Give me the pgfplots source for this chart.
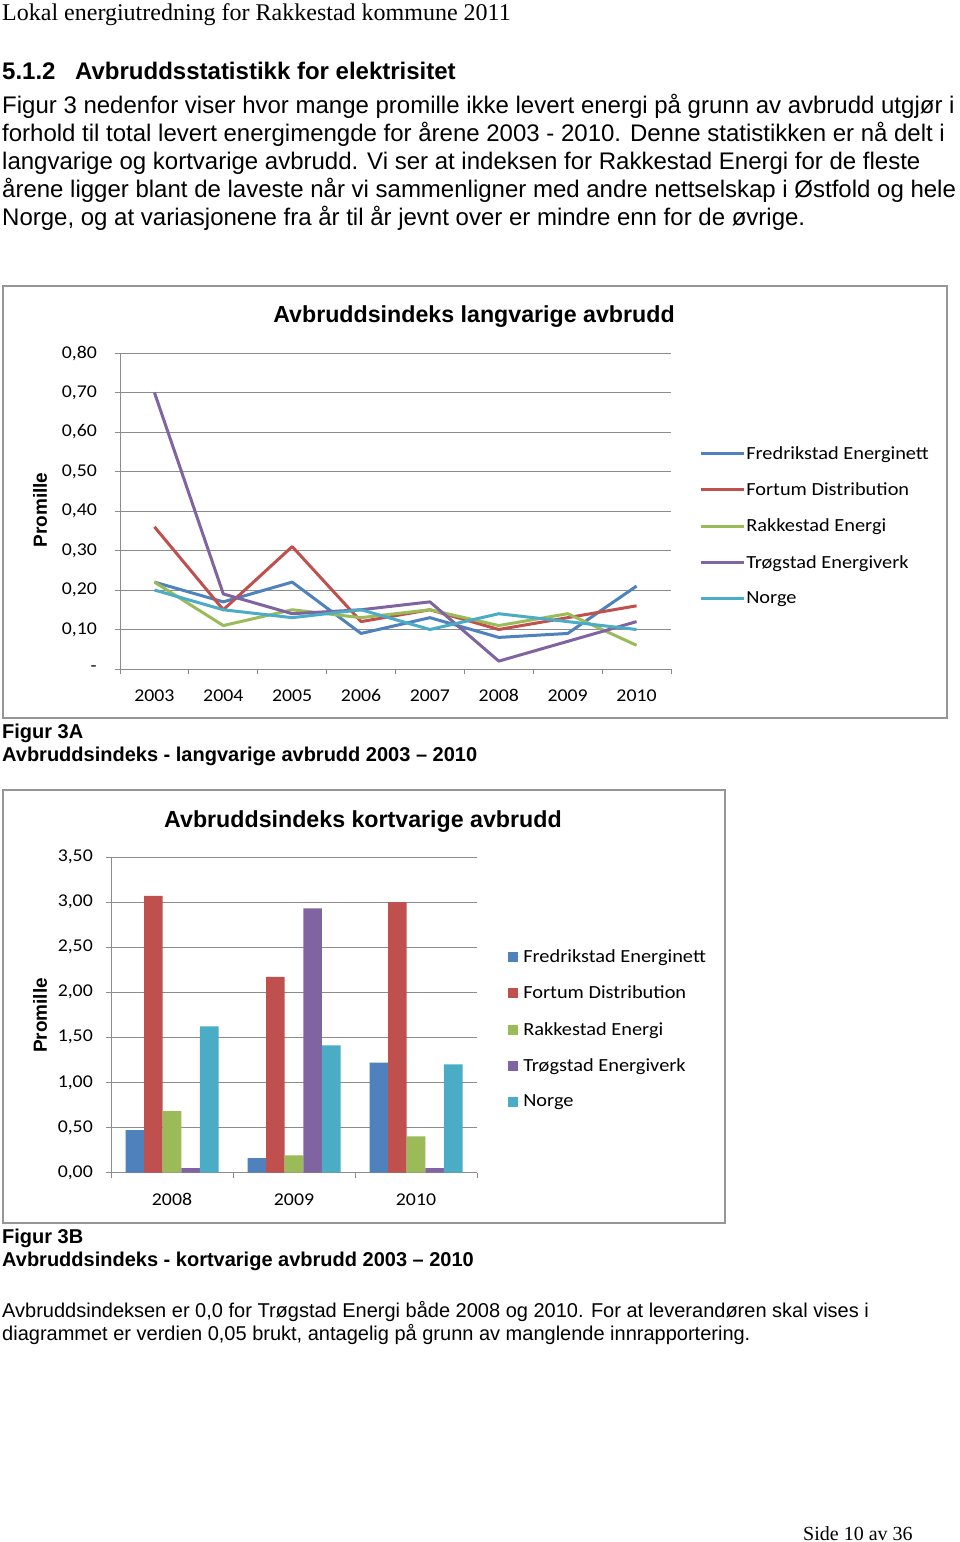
\documentclass[border=0pt]{standalone}
\usepackage{fontspec}
\setmainfont{Liberation Sans}
\newfontfamily\carlito[FakeStretch=1.1]{Carlito}
\newfontfamily\timesf{Liberation Serif}
\usepackage{pgfplots}
\pgfplotsset{compat=1.18}
\usepackage{pgfplotstable}
\definecolor{sF}{HTML}{4F81BD}
\definecolor{sFo}{HTML}{C0504D}
\definecolor{sR}{HTML}{9BBB59}
\definecolor{sT}{HTML}{8064A2}
\definecolor{sN}{HTML}{4BACC6}
\definecolor{gridc}{RGB}{140,140,140}
\definecolor{framec}{RGB}{150,150,150}

\pgfplotstableread{
year F Fo R T N
2003 0.22 0.36 0.22 0.70 0.20
2004 0.17 0.15 0.11 0.19 0.15
2005 0.22 0.31 0.15 0.14 0.13
2006 0.09 0.12 0.13 0.15 0.15
2007 0.13 0.15 0.15 0.17 0.10
2008 0.08 0.10 0.11 0.02 0.14
2009 0.09 0.13 0.14 0.07 0.12
2010 0.21 0.16 0.06 0.12 0.10
}\langtab

\pgfplotstableread{
idx F Fo R T N
0 0.47 3.07 0.68 0.05 1.62
1 0.16 2.17 0.19 2.93 1.41
2 1.22 3.00 0.40 0.05 1.20
}\korttab

\pgfplotsset{
  excelaxis/.style={
    scale only axis,
    axis x line*=bottom,
    axis y line*=left,
    axis line style={gridc, line width=0.9pt},
    tick style={gridc, line width=0.9pt},
    tick align=outside,
    major tick length=5pt,
    ymajorgrids,
    grid style={gridc, line width=0.9pt},
    tick label style={font=\carlito\fontsize{18}{18}\selectfont, text=black},
    yticklabel style={anchor=east, inner sep=0pt},
    xticklabel style={inner sep=0pt, anchor=north, text height=12pt, text depth=0pt},
    x tick label as interval,
    title style={font=\bfseries\fontsize{23.2}{23}\selectfont, anchor=center, inner sep=0pt, yshift=0pt},
    every axis y label/.style={rotate=90, anchor=center, font=\bfseries\fontsize{19}{19}\selectfont},
    legend cell align=left,
  }
}

\begin{document}
\begin{tikzpicture}[x=1pt,y=1pt]
\path[use as bounding box, fill=white] (0,0) rectangle (960,-1542);

% header
\node[anchor=base west, inner sep=0, font=\timesf\fontsize{24}{26}\selectfont] at (2,-20) {Lokal energiutredning for Rakkestad kommune 2011};
\node[anchor=base west, inner sep=0, font=\bfseries\fontsize{24}{26}\selectfont] at (2,-79) {5.1.2};
\node[anchor=base west, inner sep=0, font=\bfseries\fontsize{24}{26}\selectfont] at (75,-79) {Avbruddsstatistikk for elektrisitet};
\begin{scope}[every node/.style={anchor=base west, inner sep=0, font=\fontsize{24}{26}\selectfont}]
\node at (2,-113.5) {Figur 3 nedenfor viser hvor mange promille ikke levert energi på grunn av avbrudd utgjør i};
\node at (2,-141.5) {forhold til total levert energimengde for årene 2003 - 2010. Denne statistikken er nå delt i};
\node at (2,-169.5) {langvarige og kortvarige avbrudd. Vi ser at indeksen for Rakkestad Energi for de fleste};
\node at (2,-197) {årene ligger blant de laveste når vi sammenligner med andre nettselskap i Østfold og hele};
\node at (2,-225) {Norge, og at variasjonene fra år til år jevnt over er mindre enn for de øvrige.};
\end{scope}

% frames
\draw[framec, line width=1.5pt] (3,-286) rectangle (947,-718);
\draw[framec, line width=1.5pt] (3,-790) rectangle (725,-1223);

\begin{axis}[excelaxis,
  at={(120pt,-669pt)}, anchor=south west,
  width=551pt, height=316pt,
  xmin=2002.5, xmax=2010.5,
  xtick={2002.5,2003.5,...,2010.5},
  xticklabels={2003,2004,2005,2006,2007,2008,2009,2010},
  xticklabel style={yshift=-15pt},
  ymin=0, ymax=0.8,
  ytick={0,0.1,0.2,0.3,0.4,0.5,0.6,0.7,0.8},
  yticklabels={{-\hspace{10pt}},{0,10},{0,20},{0,30},{0,40},{0,50},{0,60},{0,70},{0,80}},
  yticklabel style={xshift=-18pt},
  title={Avbruddsindeks langvarige avbrudd},
  title style={at={(axis description cs:0.6425,1.095)}},
  ylabel={Promille},
  every axis y label/.append style={at={(axis description cs:-0.145,0.503)}},
  legend style={at={(axis description cs:1.051,0.709)}, anchor=north west, draw=none, fill=none,
     font=\carlito\fontsize{18.5}{18.5}\selectfont, row sep=20pt, inner sep=0pt,
     nodes={inner sep=1pt, anchor=west}},
  legend image code/.code={\draw[#1, line width=3pt] (0pt,0pt) -- (40pt,0pt); \path (0pt,0pt) -- (43pt,0pt);},
  every axis plot/.append style={line width=3pt, line join=round, no markers},
]
\addplot[sF] table[x=year,y=F] {\langtab};
\addplot[sFo] table[x=year,y=Fo] {\langtab};
\addplot[sR] table[x=year,y=R] {\langtab};
\addplot[sT] table[x=year,y=T] {\langtab};
\addplot[sN] table[x=year,y=N] {\langtab};
\legend{Fredrikstad Energinett,Fortum Distribution,Rakkestad Energi,Trøgstad Energiverk,Norge}
\end{axis}

\node[anchor=base west, inner sep=0, font=\bfseries\fontsize{20}{22}\selectfont] at (2,-738) {Figur 3A};
\node[anchor=base west, inner sep=0, font=\bfseries\fontsize{20}{22}\selectfont] at (2,-761) {Avbruddsindeks - langvarige avbrudd 2003 – 2010};

\begin{axis}[excelaxis,
  at={(111pt,-1172.5pt)}, anchor=south west,
  width=366pt, height=315.5pt,
  xmin=-0.5, xmax=2.5,
  xtick={-0.5,0.5,1.5,2.5},
  xticklabels={2008,2009,2010},
  xticklabel style={yshift=-16pt},
  ymin=0, ymax=3.5,
  ytick={0,0.5,1,1.5,2,2.5,3,3.5},
  yticklabels={{0,00},{0,50},{1,00},{1,50},{2,00},{2,50},{3,00},{3,50}},
  yticklabel style={xshift=-13pt},
  ybar=0pt, bar width=18.6pt,
  title={Avbruddsindeks kortvarige avbrudd},
  title style={at={(axis description cs:0.6885,1.0945)}},
  ylabel={Promille},
  every axis y label/.append style={at={(axis description cs:-0.194,0.498)}},
  legend style={at={(axis description cs:1.085,0.710)}, anchor=north west, draw=none, fill=none,
     font=\carlito\fontsize{18.5}{18.5}\selectfont, row sep=20pt, inner sep=0pt,
     nodes={inner sep=1pt, anchor=west}},
  legend image code/.code={\fill[#1] (0pt,-5pt) rectangle (10pt,5pt); \path (0pt,0pt) -- (14pt,0pt);},
]
\addplot[draw=none, fill=sF] table[x=idx,y=F] {\korttab};
\addplot[draw=none, fill=sFo] table[x=idx,y=Fo] {\korttab};
\addplot[draw=none, fill=sR] table[x=idx,y=R] {\korttab};
\addplot[draw=none, fill=sT] table[x=idx,y=T] {\korttab};
\addplot[draw=none, fill=sN] table[x=idx,y=N] {\korttab};
\legend{Fredrikstad Energinett,Fortum Distribution,Rakkestad Energi,Trøgstad Energiverk,Norge}
\end{axis}

\node[anchor=base west, inner sep=0, font=\bfseries\fontsize{20}{22}\selectfont] at (2,-1243) {Figur 3B};
\node[anchor=base west, inner sep=0, font=\bfseries\fontsize{20}{22}\selectfont] at (2,-1266) {Avbruddsindeks - kortvarige avbrudd 2003 – 2010};

\begin{scope}[every node/.style={anchor=base west, inner sep=0, font=\fontsize{20}{22}\selectfont}]
\node at (2,-1317) {Avbruddsindeksen er 0,0 for Trøgstad Energi både 2008 og 2010. For at leverandøren skal vises i};
\node at (2,-1340) {diagrammet er verdien 0,05 brukt, antagelig på grunn av manglende innrapportering.};
\end{scope}

\node[anchor=base west, inner sep=0, font=\timesf\fontsize{20}{22}\selectfont] at (803,-1540) {Side 10 av 36};
\end{tikzpicture}
\end{document}
